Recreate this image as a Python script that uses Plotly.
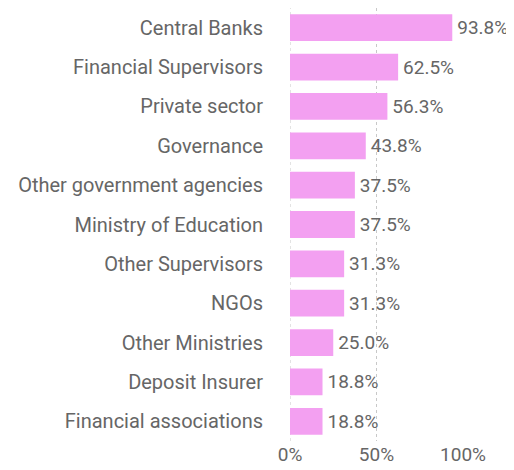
import plotly.graph_objects as go

categories = ["Central Banks", "Financial Supervisors", "Private sector", "Governance",
              "Other government agencies", "Ministry of Education", "Other Supervisors",
              "NGOs", "Other Ministries", "Deposit Insurer", "Financial associations"]
values = [93.8, 62.5, 56.3, 43.8, 37.5, 37.5, 31.3, 31.3, 25.0, 18.8, 18.8]
tick_vals = [0, 50, 100]
tick_text = ["0%", "50%", "100%"]

font_family = "Roboto, 'DejaVu Sans', sans-serif"
grey = "#666666"

fig = go.Figure(go.Bar(
    x=values, y=categories, orientation="h",
    marker=dict(color="#F3A0F1", line=dict(width=0)),
    text=[f"\u200a{v:.1f}%" for v in values], textposition="outside",
    textfont=dict(size=19, color=grey, family=font_family),
    cliponaxis=False,
))

fig.update_layout(
    width=506, height=462,
    margin=dict(l=282, r=51, t=0, b=29, autoexpand=False),
    paper_bgcolor="white", plot_bgcolor="white",
    bargap=0.32, showlegend=False,
    font=dict(family=font_family, size=20, color=grey),
    xaxis=dict(range=[0, 100], tickvals=tick_vals, ticktext=tick_text,
               showgrid=True, gridcolor="#c8c8c8", griddash="dot", gridwidth=1,
               zeroline=False, showline=False, ticks="", automargin=False,
               tickfont=dict(size=19, color=grey)),
    yaxis=dict(autorange="reversed", showgrid=False, zeroline=False, showline=False,
               ticks="", ticklabelstandoff=26, automargin=False,
               tickfont=dict(size=20, color=grey)),
)
fig.add_shape(type="line", xref="x", yref="paper", x0=0, x1=0, y0=0, y1=1,
              line=dict(color="#c8c8c8", width=1, dash="dot"), layer="below")

fig.write_html("out.html")
